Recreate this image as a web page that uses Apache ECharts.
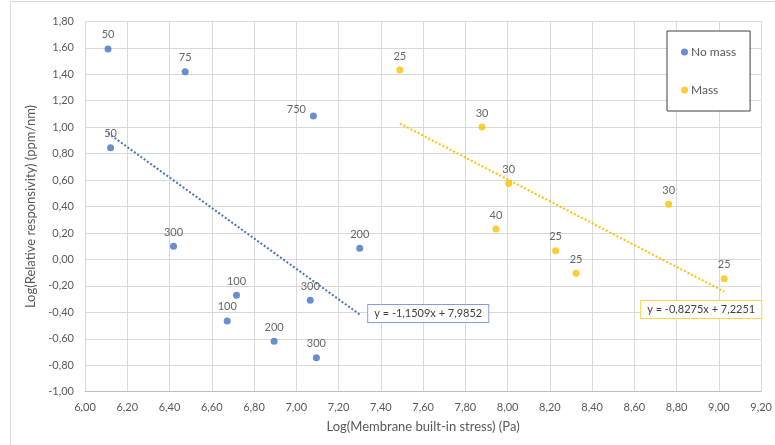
<!DOCTYPE html>
<html>
<head>
<meta charset="utf-8">
<script src="https://cdn.jsdelivr.net/npm/echarts@6/dist/echarts.min.js"></script>
<style>
  html, body { margin: 0; padding: 0; background: #ffffff; }
  #chart { width: 775px; height: 445px; }
</style>
</head>
<body>
<div id="chart"></div>
<script>
// Log(membrane built-in stress) vs Log(relative responsivity), labelled by membrane size
const noMassX     = [6.109, 6.474, 7.081, 6.121, 6.419, 7.300, 6.717, 7.066, 6.673, 6.895, 7.095];
const noMassY     = [1.591, 1.419, 1.084, 0.845, 0.099, 0.084, -0.271, -0.309, -0.465, -0.619, -0.743];
const noMassLabel = ['50', '75', '750', '50', '300', '200', '100', '300', '100', '200', '300'];

const massX     = [7.490, 7.879, 8.005, 8.762, 7.945, 8.227, 8.324, 9.025];
const massY     = [1.432, 1.001, 0.573, 0.417, 0.230, 0.066, -0.105, -0.146];
const massLabel = ['25', '30', '30', '30', '40', '25', '25', '25'];

// Linear trendlines (slope, intercept) as printed on the chart
const noMassFit = [-1.1509, 7.9852];
const massFit   = [-0.8275, 7.2251];

const xTicks = { min: 6.0, max: 9.2, step: 0.2 };
const yTicks = { min: -1.0, max: 1.8, step: 0.2 };

const BLUE = '#4472C4';
const ORANGE = '#FFC000';
const FONT = 'Lato, "Noto Sans", sans-serif';

const comma = (v, d) => v.toFixed(d).replace('.', ',');
const eqText = (fit) =>
  'y = ' + comma(fit[0], 4) + 'x ' + (fit[1] < 0 ? '- ' : '+ ') + comma(Math.abs(fit[1]), 4);

function points(xs, ys, labels) {
  return xs.map((x, i) => {
    const item = { value: [x, ys[i]], name: labels[i] };
    if (labels[i] === '750') {
      item.label = { position: 'left', distance: 4, offset: [0, -7] };
    }
    return item;
  });
}

// Two-point trendline between the smallest and largest x of a series;
// the equation box hangs off the right-hand end.
function trend(xs, fit, labelOpts) {
  const x0 = Math.min(...xs), x1 = Math.max(...xs);
  return [
    { value: [x0, fit[0] * x0 + fit[1]], label: { show: false } },
    { value: [x1, fit[0] * x1 + fit[1]], label: labelOpts }
  ];
}

function eqLabel(color, position, distance, offset, fit) {
  return {
    show: true,
    position: position,
    distance: distance,
    offset: offset,
    formatter: eqText(fit),
    fontFamily: FONT,
    fontSize: 11,
    color: '#404040',
    backgroundColor: '#ffffff',
    borderColor: color,
    borderWidth: 1,
    padding: [3, 6, 3, 6]
  };
}

const pointLabel = {
  show: true,
  position: 'top',
  distance: 5,
  formatter: (p) => p.name,
  fontFamily: FONT,
  fontSize: 11,
  color: '#404040'
};

const chart = echarts.init(document.getElementById('chart'), null, { renderer: 'canvas' });

chart.setOption({
  backgroundColor: '#ffffff',
  animation: false,
  graphic: [{
    type: 'rect',
    shape: { x: 10.5, y: 1.5, width: 900, height: 600 },
    style: { fill: 'none', stroke: '#D9D9D9', lineWidth: 1 },
    silent: true,
    z: -10
  }],
  grid: { left: 85, top: 21.3, width: 681.7, height: 370.4 },
  legend: {
    data: ['No mass', 'Mass'],
    orient: 'vertical',
    left: 667,
    top: 31,
    width: 84,
    padding: [15, 14, 15, 14],
    itemGap: 26,
    icon: 'circle',
    itemWidth: 7,
    itemHeight: 7,
    borderColor: '#404040',
    borderWidth: 1,
    backgroundColor: '#ffffff',
    textStyle: { fontFamily: FONT, fontSize: 12, color: '#595959', padding: [0, 0, 0, -2] }
  },
  xAxis: {
    type: 'value',
    min: xTicks.min,
    max: xTicks.max,
    interval: xTicks.step,
    name: 'Log(Membrane built-in stress) (Pa)',
    nameLocation: 'middle',
    nameGap: 29,
    nameTextStyle: { fontFamily: FONT, fontSize: 13, color: '#595959' },
    axisLine: { show: true, onZero: false, lineStyle: { color: '#BFBFBF', width: 1 } },
    axisTick: { show: false },
    axisLabel: { fontFamily: FONT, fontSize: 11, color: '#595959', margin: 10, formatter: (v) => comma(v, 2) },
    splitLine: { show: true, lineStyle: { color: '#D9D9D9', width: 1 } }
  },
  yAxis: {
    type: 'value',
    min: yTicks.min,
    max: yTicks.max,
    interval: yTicks.step,
    name: 'Log(Relative responsivity) (ppm/nm)',
    nameLocation: 'middle',
    nameGap: 47,
    nameRotate: 90,
    nameTextStyle: { fontFamily: FONT, fontSize: 13, color: '#595959' },
    axisLine: { show: false },
    axisTick: { show: false },
    axisLabel: { fontFamily: FONT, fontSize: 11, color: '#595959', margin: 11, formatter: (v) => comma(v, 2) },
    splitLine: { show: true, lineStyle: { color: '#D9D9D9', width: 1 } }
  },
  series: [
    {
      name: 'No mass',
      type: 'scatter',
      symbol: 'circle',
      symbolSize: 7,
      itemStyle: { color: BLUE },
      label: pointLabel,
      data: points(noMassX, noMassY, noMassLabel),
      z: 3
    },
    {
      name: 'Mass',
      type: 'scatter',
      symbol: 'circle',
      symbolSize: 7,
      itemStyle: { color: ORANGE },
      label: pointLabel,
      data: points(massX, massY, massLabel),
      z: 3
    },
    {
      name: 'No mass trend',
      type: 'line',
      showSymbol: true,
      symbol: 'circle',
      symbolSize: 1,
      itemStyle: { color: 'rgba(0,0,0,0)' },
      lineStyle: { color: BLUE, width: 2, type: [2, 2] },
      data: trend(noMassX, noMassFit, eqLabel('#7FA0DA', 'right', 8, [0, -1], noMassFit)),
      silent: true,
      z: 4
    },
    {
      name: 'Mass trend',
      type: 'line',
      showSymbol: true,
      symbol: 'circle',
      symbolSize: 1,
      itemStyle: { color: 'rgba(0,0,0,0)' },
      lineStyle: { color: ORANGE, width: 2, type: [2, 2] },
      data: trend(massX, massFit, eqLabel('#FFD24D', 'bottom', 9, [-23, 0], massFit)),
      silent: true,
      z: 4
    }
  ]
});
</script>
</body>
</html>
